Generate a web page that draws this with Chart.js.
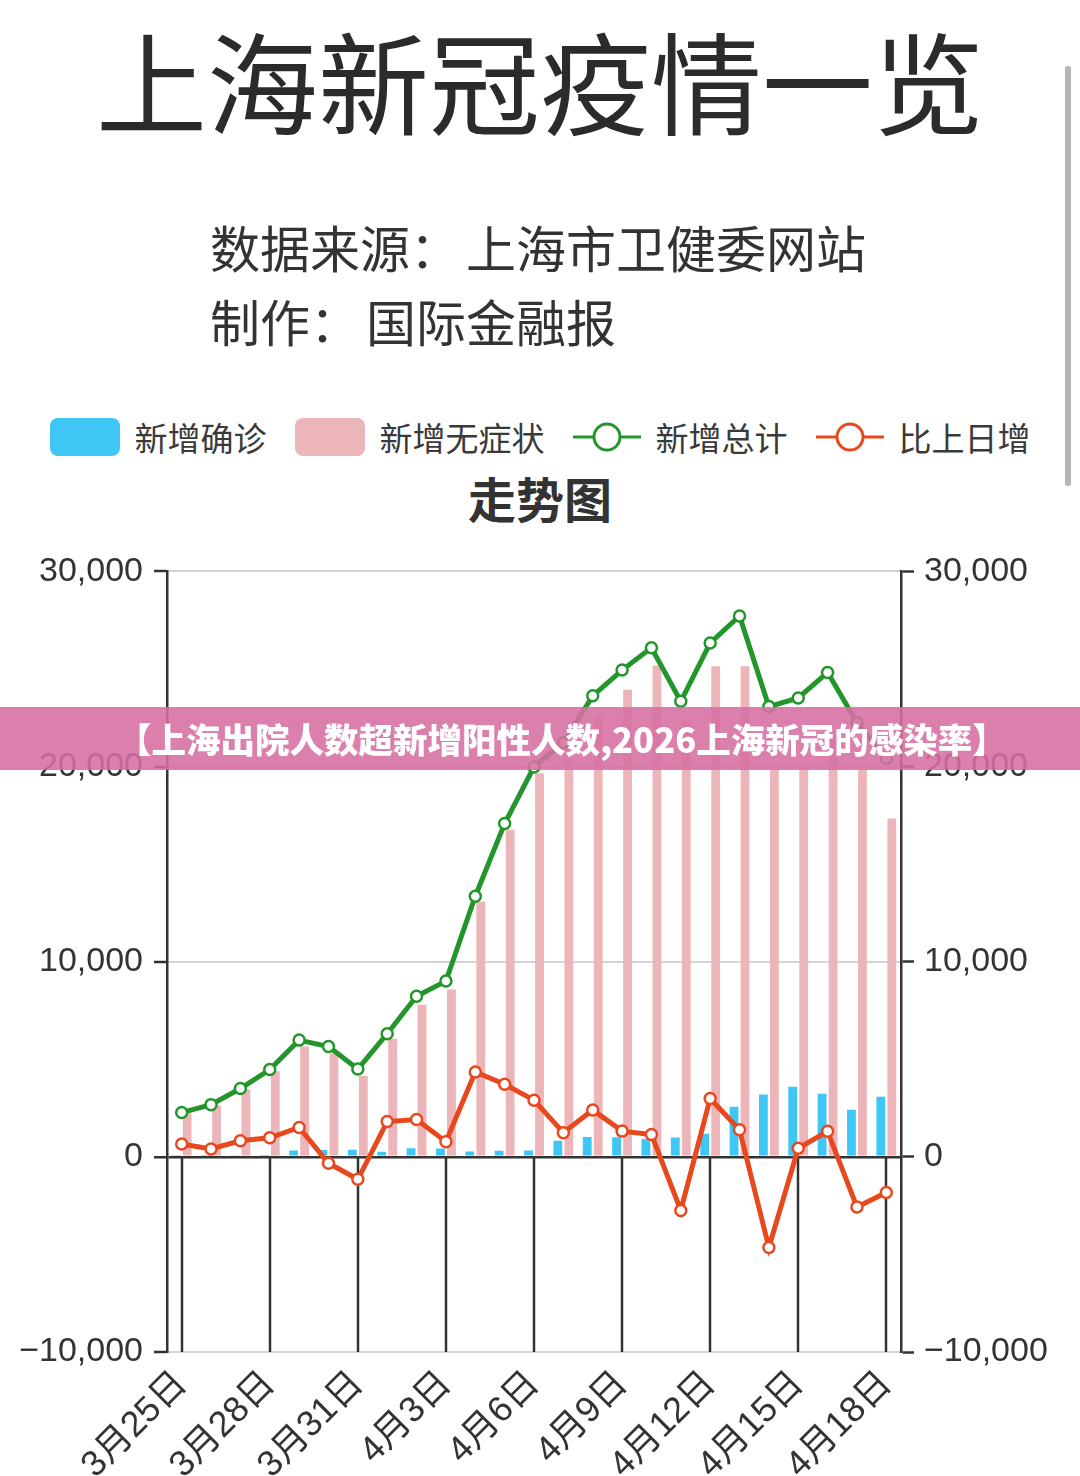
<!DOCTYPE html>
<html>
<head>
<meta charset="utf-8">
<script src="https://cdn.jsdelivr.net/npm/chart.js@4.4.1/dist/chart.umd.min.js"></script>
<style>
html, body { margin: 0; padding: 0; background: #fff; }
body { width: 1080px; height: 1476px; position: relative; overflow: hidden;
       font-family: "Noto Sans CJK SC", "Noto Sans", sans-serif; color: #333; }
#title { position: absolute; left: 0; top: 9px; width: 1080px; text-align: center;
         font-size: 111px; line-height: 140px; color: #2b2b2b; }
.sub { position: absolute; left: 210px; font-size: 50px; line-height: 60px; color: #333; }
.sub span { margin-left: 6px; }
#legend { position: absolute; left: 0; top: 412px; width: 1080px; height: 50px;
          display: flex; justify-content: center; align-items: center; gap: 28px; }
.item { display: flex; align-items: center; gap: 15px; font-size: 33px; color: #3a3a3a; }
.box { width: 70px; height: 38px; border-radius: 8px; }
#heading { position: absolute; left: 0; top: 465px; width: 1080px; text-align: center;
           font-size: 48px; font-weight: bold; line-height: 64px; color: #333; }
#wrap { position: absolute; left: 0; top: 540px; width: 1080px; height: 936px; }
#banner { position: absolute; left: 0; top: 707px; width: 1080px; height: 63px;
          background: rgba(214, 110, 162, 0.88); color: #fff; font-weight: 900;
          font-size: 34.5px; line-height: 63px; text-align: left; text-indent: 117px;
          white-space: nowrap; }
#scroll { position: absolute; left: 1065px; top: 66px; width: 6px; height: 420px;
          border-radius: 3px; background: #b5b5b5; }
</style>
</head>
<body>
<div id="title">上海新冠疫情一览</div>
<div class="sub" style="top:216px">数据来源：<span>上海市卫健委网站</span></div>
<div class="sub" style="top:290px">制作：<span>国际金融报</span></div>
<div id="legend"></div>
<div id="heading">走势图</div>
<div id="wrap"><canvas id="chart" width="1080" height="936"></canvas></div>
<div id="banner">【上海出院人数超新增阳性人数,2026上海新冠的感染率】</div>
<div id="scroll"></div>

<script>
const dates = ['3月25日', '3月26日', '3月27日', '3月28日', '3月29日', '3月30日', '3月31日',
    '4月1日', '4月2日', '4月3日', '4月4日', '4月5日', '4月6日', '4月7日', '4月8日',
    '4月9日', '4月10日', '4月11日', '4月12日', '4月13日', '4月14日', '4月15日',
    '4月16日', '4月17日', '4月18日'];

const confirmed = [38, 45, 50, 96, 326, 355, 358, 260, 438, 425, 268, 311, 322,
    824, 1015, 1006, 914, 994, 1189, 2573, 3200, 3590, 3238, 2417, 3084];
const asymptomatic = [2231, 2631, 3450, 4381, 5656, 5298, 4144, 6051, 7788, 8581, 13086,
    16766, 19660, 20398, 22609, 23937, 25173, 22348, 25141, 25146, 19872, 19923, 21582,
    19831, 17332];
const total = [2269, 2676, 3500, 4477, 5982, 5653, 4502, 6311, 8226, 9006, 13354, 17077,
    19982, 21222, 23624, 24943, 26087, 23342, 26330, 27719, 23072, 23513, 24820, 22248, 20416];
const change = [660, 407, 824, 977, 1505, -329, -1151, 1809, 1915, 780, 4348, 3723, 2905,
    1240, 2402, 1319, 1144, -2745, 2988, 1389, -4647, 441, 1307, -2572, -1832];

const yTicks = [-10000, 0, 10000, 20000, 30000];
const labelStep = 3;

const series = [
    { label: '新增确诊', kind: 'bar', color: '#3ec6f5', data: confirmed, order: 3 },
    { label: '新增无症状', kind: 'bar', color: '#ecb5b9', data: asymptomatic, order: 4 },
    { label: '新增总计', kind: 'line', color: '#22962a', data: total, order: 2 },
    { label: '比上日增', kind: 'line', color: '#e8481d', data: change, order: 1 }
];

// html legend
const legend = document.getElementById('legend');
series.forEach(s => {
    const item = document.createElement('div');
    item.className = 'item';
    if (s.kind === 'bar') {
        item.innerHTML = `<div class="box" style="background:${s.color}"></div>`;
    } else {
        item.innerHTML = `<svg width="68" height="38"><line x1="0" y1="19" x2="68" y2="19"
            stroke="${s.color}" stroke-width="3"/><circle cx="34" cy="19" r="13" fill="#fff"
            stroke="${s.color}" stroke-width="3"/></svg>`;
    }
    const t = document.createElement('span');
    t.textContent = s.label;
    item.appendChild(t);
    legend.appendChild(item);
});

// long dark tick lines under the zero axis
const tickLines = {
    id: 'tickLines',
    beforeDatasetsDraw(chart) {
        const { ctx, scales: { x, y } } = chart;
        const top = y.getPixelForValue(0);
        const bottom = y.getPixelForValue(yTicks[0]);
        ctx.save();
        ctx.strokeStyle = '#333';
        ctx.lineWidth = 2.5;
        x.ticks.forEach((t, i) => {
            if (i % labelStep) return;
            const px = Math.round(x.getPixelForTick(i));
            ctx.beginPath();
            ctx.moveTo(px, top);
            ctx.lineTo(px, bottom);
            ctx.stroke();
        });
        ctx.restore();
    }
};

const family = '"Liberation Sans", "Noto Sans CJK SC", sans-serif';
const fmt = v => (v < 0 ? '\u2212' : '') + Math.abs(v).toLocaleString('en-US');

const datasets = series.map(s => s.kind === 'bar' ? {
    type: 'bar',
    label: s.label,
    data: s.data,
    yAxisID: 'y',
    backgroundColor: s.color,
    categoryPercentage: 0.75,
    barPercentage: 0.8,
    order: s.order
} : {
    type: 'line',
    label: s.label,
    data: s.data,
    yAxisID: 'y2',
    borderColor: s.color,
    borderWidth: 5,
    tension: 0,
    pointRadius: 5.5,
    pointBorderWidth: 2.5,
    pointBackgroundColor: '#fff',
    pointBorderColor: s.color,
    order: s.order
});

document.fonts.ready.then(() => {
    new Chart(document.getElementById('chart'), {
        data: { labels: dates, datasets },
        plugins: [tickLines],
        options: {
            responsive: false,
            animation: false,
            layout: { padding: { top: 31, left: 0, right: 0, bottom: 0 } },
            plugins: { legend: { display: false }, tooltip: { enabled: false } },
            scales: {
                x: {
                    offset: true,
                    grid: { display: false },
                    border: { display: false },
                    ticks: {
                        autoSkip: false,
                        minRotation: 45,
                        maxRotation: 45,
                        padding: 3,
                        color: '#333',
                        font: { size: 36, family },
                        callback: (v, i) => i % labelStep === 0 ? dates[i] : ''
                    },
                    afterFit: s => { s.height = 124; }
                },
                y: {
                    position: 'left',
                    min: yTicks[0],
                    max: yTicks[yTicks.length - 1],
                    grid: {
                        color: c => c.tick && c.tick.value === 0 ? '#333' : '#d3d3d3',
                        lineWidth: c => c.tick && c.tick.value === 0 ? 2.5 : 2,
                        tickColor: '#333',
                        tickLength: 13,
                        tickWidth: 2.5
                    },
                    border: { color: '#333', width: 2.5 },
                    ticks: { stepSize: 10000, padding: 11, color: '#333', font: { size: 34, family }, callback: fmt },
                    afterFit: s => { s.width = 167; }
                },
                y2: {
                    position: 'right',
                    min: yTicks[0],
                    max: yTicks[yTicks.length - 1],
                    grid: { drawOnChartArea: false, tickColor: '#333', tickLength: 13, tickWidth: 2.5 },
                    border: { color: '#333', width: 2.5 },
                    ticks: { stepSize: 10000, padding: 10, color: '#333', font: { size: 34, family }, callback: fmt },
                    afterFit: s => { s.width = 179; }
                }
            }
        }
    });
});
</script>
</body>
</html>
